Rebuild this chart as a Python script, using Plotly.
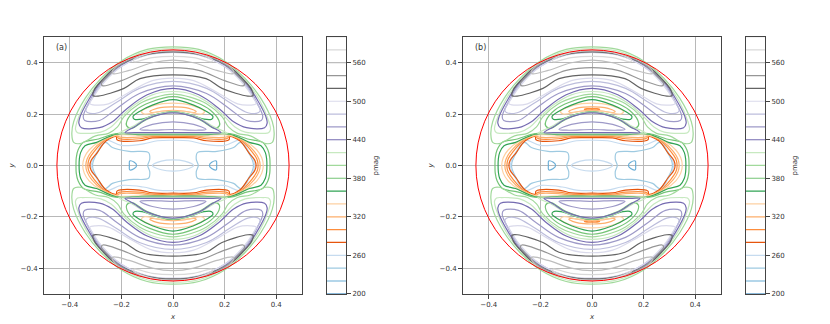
import plotly.graph_objects as go

LEVELS = [200,220,240,260,280,300,320,340,360,380,400,420,440,460,480,500,520,540,560,580,600]
COLORS = ["#3182bd","#6baed6","#9ecae1","#c6dbef","#e6550d","#fd8d3c","#fdae6b","#fdd0a2",
          "#31a354","#74c476","#a1d99b","#c7e9c0","#756bb1","#9e9ac8","#bcbddc","#dadaeb",
          "#636363","#969696","#bdbdbd","#d9d9d9","#f0f0f0"]
TICKS = [-0.4,-0.2,0.0,0.2,0.4]
CBAR_TICKS = [200,260,320,380,440,500,560]
WALL_RADIUS = 0.45

# Crescent contours (right half of the upper half, from x=0 top round to x=0 bottom)
C580_X = [0,.08,.155,.15,.08,0];                     C580_Y = [.449,.44,.41,.404,.42,.425]
C560_X = [0,.1,.2,.235,.232,.17,.08,0];              C560_Y = [.447,.437,.40,.365,.357,.37,.40,.41]
C540_X = [0,.1,.2,.25,.278,.272,.2,.1,0];            C540_Y = [.445,.435,.395,.35,.318,.31,.33,.37,.381]
C520_X = [0,.1,.224,.27,.305,.31,.29,.19,.128,0];    C520_Y = [.442,.432,.38,.337,.295,.272,.27,.30,.338,.353]
C500_X = [0,.1,.2,.27,.31,.322,.3,.25,.17,.08,0];    C500_Y = [.44,.43,.385,.32,.265,.24,.235,.24,.285,.33,.34]
C480_X = [0,.1,.2,.275,.32,.338,.33,.29,.22,.13,0];  C480_Y = [.44,.43,.385,.32,.25,.215,.205,.205,.245,.3,.327]
C460_X = [0,.1,.2,.28,.325,.348,.342,.285,.22,.13,0]; C460_Y = [.442,.432,.387,.32,.245,.19,.175,.175,.22,.28,.31]
C440_X = [0,.1,.2,.28,.33,.36,.365,.355,.285,.235,.18,.1,0]; C440_Y = [.443,.433,.39,.325,.25,.19,.165,.147,.147,.17,.22,.275,.30]
C420_X = [0,.1,.2,.28,.335,.372,.378,.37,.35,.28,.24,.2,.15,.08,0]; C420_Y = [.455,.445,.4,.33,.255,.17,.14,.127,.125,.13,.15,.19,.235,.275,.288]
C400_X = [0,.1,.2,.28,.34,.385,.392,.385,.36,.3,.25,.215,.19,.13,.07,0]; C400_Y = [.462,.452,.407,.338,.262,.17,.12,.09,.085,.115,.125,.15,.19,.24,.265,.278]

# Loops in the valley above the lens
V380_X = [0,.09,.145,.178,.18,.16,.1,0];   V380_Y = [.268,.245,.215,.175,.155,.145,.18,.208]
V360_X = [0,.08,.13,.155,.15,.12,.06,0];   V360_Y = [.256,.235,.21,.19,.18,.18,.2,.21]
V340_X = [0,.07,.122,.11,.06,0];           V340_Y = [.243,.235,.21,.2,.208,.212]
V320_X = [0,.05,.09,.08,.04,0];            V320_Y = [.228,.225,.21,.206,.212,.215]
# Extra small loop of panel (b)
V300B_X = [0,.02,.03,.02,0];               V300B_Y = [.221,.221,.218,.216,.216]

# Lens
L420_X = [0,.1,.155,.21,.15,0];            L420_Y = [.208,.185,.152,.125,.124,.124]
L440_X = [0,.1,.15,.186,.15,0];            L440_Y = [.205,.182,.15,.128,.128,.128]
L460_X = [0,.08,.128,.09,0];               L460_Y = [.17,.16,.14,.137,.14]

# Eye contours (one quadrant, top to the right end)
E380_X = [0,.12,.22,.289,.347,.368,.375,.376];  E380_Y = [.123,.123,.124,.103,.09,.06,.03,0]
E360_X = [0,.12,.22,.296,.341,.358,.363,.364];  E360_Y = [.12,.12,.122,.09,.077,.05,.025,0]
E340_X = [0,.12,.22,.28,.325,.344,.35];         E340_Y = [.118,.118,.118,.095,.06,.03,0]
E320_X = [0,.08,.13,.205,.22,.272,.315,.333,.338]; E320_Y = [.116,.116,.11,.11,.117,.095,.055,.025,0]
E300_X = [0,.08,.13,.21,.22,.265,.305,.325,.33]; E300_Y = [.113,.112,.104,.105,.115,.097,.055,.025,0]
E280_X = [0,.08,.13,.217,.22,.26,.295,.317,.322]; E280_Y = [.108,.107,.096,.1,.112,.095,.048,.02,0]
E260_X = [0,.06,.115,.2,.262,.295,.312,.316];   E260_Y = [.098,.096,.084,.078,.098,.052,.02,0]

# Side lobes: from y=0 inner to y=0 outer
S240_X = [.098,.09,.095,.17,.235,.262,.29,.308,.312]; S240_Y = [0,.025,.05,.055,.07,.09,.055,.02,0]
S220_X = [.141,.15,.168,.169];             S220_Y = [0,.012,.017,0]
# Central ellipse quadrant
M260_X = [0,.045,.08];                     M260_Y = [.022,.017,0]


def crescent(xs, ys):
    x = list(xs) + [-v for v in reversed(xs[:-1])]
    y = list(ys) + list(reversed(ys[:-1]))
    return [(x, y), (x, [-v for v in y])]

def eye(xs, ys):
    x = list(xs) + list(reversed(xs[:-1])) + [-v for v in xs[1:]] + [-v for v in reversed(xs[:-1])]
    y = list(ys) + [-v for v in reversed(ys[:-1])] + [-v for v in ys[1:]] + list(reversed(ys[:-1]))
    return [(x, y)]

def lobe(xs, ys):
    x = list(xs) + list(reversed(xs[:-1]))
    y = list(ys) + [-v for v in reversed(ys[:-1])]
    return [(x, y), ([-v for v in x], y)]

COMMON = {
    220: [lobe(S220_X, S220_Y)],
    240: [lobe(S240_X, S240_Y)],
    260: [eye(E260_X, E260_Y), eye(M260_X, M260_Y)],
    280: [eye(E280_X, E280_Y)],
    300: [eye(E300_X, E300_Y)],
    320: [eye(E320_X, E320_Y), crescent(V320_X, V320_Y)],
    340: [eye(E340_X, E340_Y), crescent(V340_X, V340_Y)],
    360: [eye(E360_X, E360_Y), crescent(V360_X, V360_Y)],
    380: [eye(E380_X, E380_Y), crescent(V380_X, V380_Y)],
    400: [crescent(C400_X, C400_Y)],
    420: [crescent(C420_X, C420_Y), crescent(L420_X, L420_Y)],
    440: [crescent(C440_X, C440_Y), crescent(L440_X, L440_Y)],
    460: [crescent(C460_X, C460_Y), crescent(L460_X, L460_Y)],
    480: [crescent(C480_X, C480_Y)],
    500: [crescent(C500_X, C500_Y)],
    520: [crescent(C520_X, C520_Y)],
    540: [crescent(C540_X, C540_Y)],
    560: [crescent(C560_X, C560_Y)],
    580: [crescent(C580_X, C580_Y)],
}
EXTRA_B = {300: [crescent(V300B_X, V300B_Y)]}

W, H = 830, 324
FONT = "DejaVu Sans"
INK = "#444444"
fig = go.Figure()

def add_panel(ax, extra):
    for lev in sorted(COMMON):
        groups = COMMON[lev] + extra.get(lev, [])
        xs, ys = [], []
        for g in groups:
            for px, py in g:
                xs += px + [None]
                ys += py + [None]
        fig.add_trace(go.Scatter(x=xs, y=ys, mode="lines", xaxis=f"x{ax}", yaxis=f"y{ax}",
                                 line=dict(color=COLORS[LEVELS.index(lev)], width=1.2, shape="spline", smoothing=1.0),
                                 showlegend=False, hoverinfo="skip"))

def add_cbar(ax):
    for lev, col in zip(LEVELS, COLORS):
        fig.add_trace(go.Scatter(x=[0, 1], y=[lev, lev], mode="lines", xaxis=f"x{ax}", yaxis=f"y{ax}",
                                 line=dict(color=col, width=1.2), showlegend=False, hoverinfo="skip"))

add_panel(1, {})
add_panel(2, EXTRA_B)
add_cbar(3)
add_cbar(4)

def xd(a, b): return [a / W, b / W]
yd = [1 - 297.5 / H, 1 - 37.5 / H]
axis_common = dict(showline=True, linecolor=INK, linewidth=1, mirror=True, zeroline=False,
                   ticks="outside", ticklen=4, tickwidth=1, tickcolor=INK,
                   tickfont=dict(family=FONT, size=7, color="#333333"))
main = dict(axis_common, range=[-0.5, 0.5], tickvals=TICKS, ticktext=["−0.4","−0.2","0.0","0.2","0.4"],
            showgrid=True, gridcolor="#b8b8b8", gridwidth=1)
label = dict(font=dict(family=FONT, size=7, color="#333333"), standoff=5)

layout = dict(
    width=W, height=H, margin=dict(l=0, r=0, t=0, b=0), paper_bgcolor="white", plot_bgcolor="white",
    xaxis=dict(main, domain=xd(44, 302), anchor="y", title=dict(label, text="<i>x</i>")),
    yaxis=dict(main, domain=yd, anchor="x", title=dict(label, text="<i>y</i>")),
    xaxis2=dict(main, domain=xd(463, 721), anchor="y2", title=dict(label, text="<i>x</i>")),
    yaxis2=dict(main, domain=yd, anchor="x2", title=dict(label, text="<i>y</i>")),
)
for i, (a, b) in zip((3, 4), ((327, 346), (746, 765))):
    layout[f"xaxis{i}"] = dict(domain=xd(a, b), anchor=f"y{i}", range=[0, 1], showticklabels=False, ticks="",
                               showgrid=False, zeroline=False, showline=True, linecolor=INK, mirror=True)
    layout[f"yaxis{i}"] = dict(axis_common, domain=yd, anchor=f"x{i}", side="right", range=[200, 600],
                               tickvals=CBAR_TICKS, showgrid=False,
                               title=dict(label, text="pmag", standoff=8))
fig.update_layout(**layout)

for xr, yr in (("x", "y"), ("x2", "y2")):
    fig.add_shape(type="circle", xref=xr, yref=yr, x0=-WALL_RADIUS, x1=WALL_RADIUS, y0=-WALL_RADIUS, y1=WALL_RADIUS,
                  line=dict(color="#ff0000", width=1))
for xr, yr, txt in (("x", "y", "(a)"), ("x2", "y2", "(b)")):
    fig.add_annotation(x=-0.46, y=0.46, xref=xr, yref=yr, text=txt, showarrow=False, xanchor="left", yanchor="middle",
                       font=dict(family=FONT, size=8, color="#333333"))

fig.write_html("out.html", config=dict(displayModeBar=False), post_script="document.body.style.margin='0';")
